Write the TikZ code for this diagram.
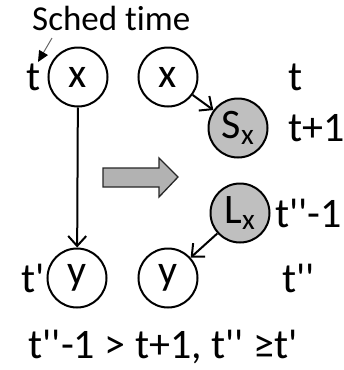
\documentclass[tikz,border=0pt]{standalone}
\usepackage{fontspec}
\setmainfont{Carlito}[Ligatures=NoCommon]
\usetikzlibrary{arrows.meta}

\newcommand{\biglbl}{\fontsize{42}{48}\selectfont}
\newcommand{\smalllbl}{\fontsize{35}{40}\selectfont}
\newcommand{\tq}{\textquotesingle}

\tikzset{
  var/.style={circle, draw, line width=2pt, minimum size=59pt, inner sep=0pt, font=\biglbl},
  aux/.style={var, fill=black!25},
  lbl/.style={inner sep=0pt, font=\biglbl},
  edge/.style={line width=2pt, -{Straight Barb[length=10pt,width=18pt,line width=2pt]}}
}

\begin{document}
\begin{tikzpicture}[x=1pt,y=-1pt]
\useasboundingbox (0,0) rectangle (344,370);
\node[var] (x1) at (78,77) {x};
\node[var] (y1) at (77,278) {y};
\node[var] (x2) at (168,77) {x};
\node[aux] (sx) at (238,128) {S\textsubscript{x}};
\node[aux] (lx) at (240,213) {L\textsubscript{x}};
\node[var] (y2) at (168,278) {y};
\node[lbl, anchor=east] (t1) at (41,77) {t};
\node[lbl, anchor=east] (t2) at (45,278) {t\tq};
\node[lbl, anchor=west] (r1) at (288,77) {t};
\node[lbl, anchor=west] (r2) at (288,128) {t+1};
\node[lbl, anchor=east] (r3) at (342,213) {t\tq\tq-1};
\node[lbl, anchor=west] (r4) at (282,278) {t\tq\tq};
\node[inner sep=0pt, font=\smalllbl, anchor=west] (sched) at (32,18) {Sched time};
\node[lbl] (cond) at (163,347) {t\tq\tq-1 > t+1, t\tq\tq{} ≥t\tq};
\coordinate (tip) at (38,62);
\draw[black!60, line width=1pt, -{Triangle[length=11pt,width=10pt,fill=black,color=black]}] (52,38) -- (tip);
\draw[edge] (x1) -- (y1);
\draw[edge] (x2) -- (sx);
\draw[edge] (lx) -- (y2);
\draw[line width=1.3pt, fill=black!30, draw=black!85] (103,168) -- (159,168) -- (159,158) -- (178,177)
  -- (159,197) -- (159,187) -- (103,187) -- cycle;
\end{tikzpicture}
\end{document}
